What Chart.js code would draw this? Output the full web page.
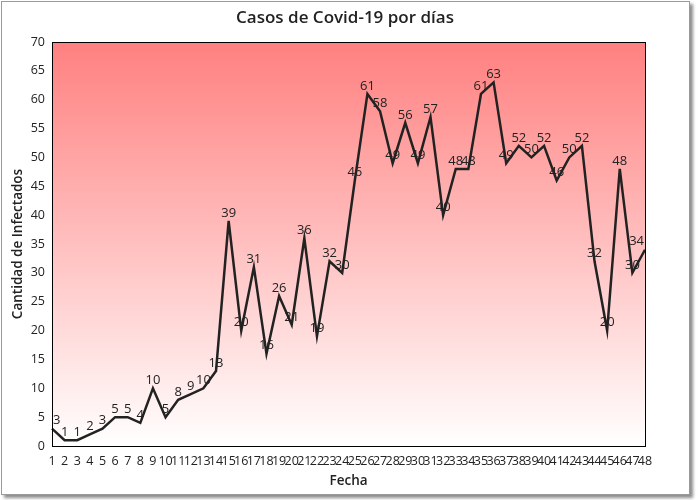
<!DOCTYPE html>
<html>
<head>
<meta charset="utf-8">
<script src="https://cdn.jsdelivr.net/npm/chart.js@4"></script>
<style>
    body { margin: 0; background: #fff; }
    #frame {
        position: absolute; left: 1px; top: 1px; width: 687px; height: 492px;
        border: 1px solid #9a9a9a; background: #fff;
        box-shadow: 3px 3px 3px rgba(0,0,0,0.45);
    }
    #myChart { position: absolute; left: 0; top: 0; }
</style>
</head>
<body>
<div id="frame"></div>
<canvas id="myChart" width="690" height="500"></canvas>
<script>
// Days 1..48
const days = ['1','2','3','4','5','6','7','8','9','10','11','12','13','14','15','16',
    '17','18','19','20','21','22','23','24','25','26','27','28','29','30','31','32',
    '33','34','35','36','37','38','39','40','41','42','43','44','45','46','47','48']

// Infected per day
const infected = [3, 1, 1, 2, 3, 5, 5, 4, 10, 5, 8, 9, 10, 13, 39, 20,
    31, 16, 26, 21, 36, 19, 32, 30, 46, 61, 58, 49, 56, 49, 57, 40,
    48, 48, 61, 63, 49, 52, 50, 52, 46, 50, 52, 32, 20, 48, 30, 34]

const yMin = 0
const yMax = 70
const yStep = 5

const font = "'Open Sans', 'Noto Sans', sans-serif"
const textColor = '#222'

// Gradient plot background + border around chart area
const plotBackground = {
    id: 'plotBackground',
    beforeDatasetsDraw: chart => {
        const { ctx, chartArea: a } = chart
        const g = ctx.createLinearGradient(0, a.top, 0, a.bottom)
        g.addColorStop(0, '#ff8080')
        g.addColorStop(1, '#ffffff')
        ctx.save()
        ctx.fillStyle = g
        ctx.fillRect(a.left, a.top, a.right - a.left, a.bottom - a.top)
        ctx.restore()
    },
    afterDatasetsDraw: chart => {
        const { ctx, chartArea: a } = chart
        ctx.save()
        ctx.strokeStyle = '#000'
        ctx.lineWidth = 1
        ctx.strokeRect(Math.round(a.left) + 0.5, Math.round(a.top) + 0.5,
            Math.round(a.right - a.left), Math.round(a.bottom - a.top))
        ctx.restore()
    }
}

// Value labels above each point, kept inside the plot area
const valueLabels = {
    id: 'valueLabels',
    afterDatasetsDraw: chart => {
        const { ctx, chartArea: a } = chart
        const meta = chart.getDatasetMeta(0)
        ctx.save()
        ctx.font = '13px ' + font
        ctx.fillStyle = textColor
        ctx.textAlign = 'center'
        ctx.textBaseline = 'middle'
        meta.data.forEach((pt, i) => {
            const txt = String(infected[i])
            const half = ctx.measureText(txt).width / 2
            const x = Math.max(a.left + half + 1, Math.min(a.right - half - 1, pt.x))
            ctx.fillText(txt, x, pt.y - 8)
        })
        ctx.restore()
    }
}

const ctx = document.getElementById('myChart')

const chart = new Chart(ctx, {
    type: 'line',
    data: {
        labels: days,
        datasets: [{
            data: infected,
            borderColor: '#222',
            borderWidth: 2.5,
            pointRadius: 0,
            tension: 0,
            fill: false
        }]
    },
    options: {
        responsive: false,
        animation: false,
        layout: { padding: 0 },
        plugins: {
            legend: { display: false },
            tooltip: { enabled: false },
            title: {
                display: true,
                text: 'Casos de Covid-19 por días',
                color: textColor,
                font: { family: font, size: 17, weight: '600' },
                padding: { top: 8, bottom: 13.6 }
            }
        },
        scales: {
            x: {
                grid: { display: false, drawTicks: false },
                border: { display: false },
                ticks: {
                    autoSkip: false, maxRotation: 0, minRotation: 0, padding: 8,
                    color: textColor, font: { family: font, size: 12.5 }
                },
                title: {
                    display: true, text: 'Fecha', color: textColor,
                    font: { family: font, size: 13.5, weight: '600' },
                    padding: { top: 0, bottom: 11 }
                },
                afterFit: s => { s.height = 54 }
            },
            y: {
                min: yMin,
                max: yMax,
                grid: { display: false, drawTicks: false },
                border: { display: false },
                ticks: {
                    stepSize: yStep, padding: 7,
                    color: textColor, font: { family: font, size: 12.5 }
                },
                title: {
                    display: true, text: 'Cantidad de Infectados', color: textColor,
                    font: { family: font, size: 13.5, weight: '600' },
                    padding: { top: 10, bottom: 0 }
                },
                afterFit: s => { s.width = 52 }
            },
            // Empty right axis only to keep space on the right
            yRight: {
                position: 'right',
                grid: { display: false, drawTicks: false },
                border: { display: false },
                ticks: { display: false },
                afterFit: s => { s.width = 45 }
            }
        }
    },
    plugins: [plotBackground, valueLabels]
})
</script>
</body>
</html>
